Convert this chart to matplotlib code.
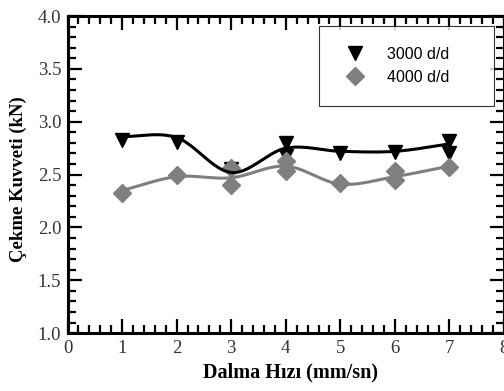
import numpy as np
import matplotlib.pyplot as plt
from matplotlib.ticker import MultipleLocator, FormatStrFormatter

# dalma hizi (mm/sn)
hiz = [1, 2, 3, 4, 5, 6, 7]

x_3000 = [1, 2, 3, 4, 4, 5, 6, 7, 7]
y_3000 = [2.83, 2.81, 2.55, 2.80, 2.68, 2.70, 2.71, 2.82, 2.70]
x_4000 = [1, 2, 3, 3, 4, 4, 5, 6, 6, 7]
y_4000 = [2.33, 2.50, 2.56, 2.40, 2.63, 2.53, 2.42, 2.53, 2.45, 2.57]

# mean curves the smooth lines go through
ort_3000 = [2.86, 2.85, 2.52, 2.75, 2.72, 2.72, 2.79]
ort_4000 = [2.35, 2.48, 2.47, 2.58, 2.41, 2.48, 2.58]

etiketler = ['3000 d/d', '4000 d/d']


def egri(x, y, n=40):
    # catmull-rom curve through the points, only for drawing the line
    p = np.column_stack([x, y]).astype(float)
    p = np.vstack([2 * p[0] - p[1], p, 2 * p[-1] - p[-2]])
    t = np.linspace(0, 1, n)[:, None]
    parca = []
    for i in range(1, len(p) - 2):
        p0, p1, p2, p3 = p[i - 1], p[i], p[i + 1], p[i + 2]
        c = 0.5 * ((2 * p1) + (-p0 + p2) * t + (2 * p0 - 5 * p1 + 4 * p2 - p3) * t**2
                   + (-p0 + 3 * p1 - 3 * p2 + p3) * t**3)
        parca.append(c)
    c = np.vstack(parca)
    return c[:, 0], c[:, 1]


fig = plt.figure(figsize=(5.04, 3.91), dpi=100)
ax = fig.add_axes([0.134, 0.148, 0.866, 0.811])

gri = '#7f7f7f'
ax.plot(x_3000, y_3000, 'v', color='black', ms=9.5, zorder=2, label=etiketler[0])
xs, ys = egri(hiz, ort_4000)
ax.plot(xs, ys, color=gri, lw=2.2, zorder=3)
ax.plot(x_4000, y_4000, 'D', color=gri, ms=8.7, zorder=4, label=etiketler[1])
xs, ys = egri(hiz, ort_3000)
ax.plot(xs, ys, color='black', lw=2.2, zorder=5)

ax.set_xlim(0, 8)
ax.set_ylim(1, 4)
ax.xaxis.set_major_locator(MultipleLocator(1))
ax.xaxis.set_minor_locator(MultipleLocator(0.2))
ax.yaxis.set_major_locator(MultipleLocator(0.5))
ax.yaxis.set_minor_locator(MultipleLocator(0.1))
ax.yaxis.set_major_formatter(FormatStrFormatter('%.1f'))

for s in ax.spines.values():
    s.set_linewidth(2.2)
ax.tick_params(which='both', direction='in', top=True, right=True,
               width=1.6, colors='black', labelcolor='#333333')
ax.tick_params(which='major', length=10)
ax.tick_params(which='minor', length=5.5)
ax.tick_params(axis='x', pad=5)
ax.tick_params(axis='y', pad=4.5)
for lab in ax.get_xticklabels() + ax.get_yticklabels():
    lab.set_fontfamily('Liberation Serif')
    lab.set_fontsize(13.5)

ax.set_xlabel('Dalma Hızı (mm/sn)', family='Liberation Serif', weight='bold',
              fontsize=14.5)
ax.set_ylabel('Çekme Kuvveti (kN)', family='Liberation Serif', weight='bold',
              fontsize=13.5)
ax.xaxis.set_label_coords(0.51, -0.094)
ax.yaxis.set_label_coords(-0.093, 0.486)

leg = ax.legend(loc='upper left', bbox_to_anchor=(0.575, 0.968, 0.401, 0.0),
                mode='expand', prop={'family': 'Liberation Sans', 'size': 11.5},
                frameon=True, fancybox=False, borderpad=1.3, labelspacing=0.5,
                handlelength=2.0, handletextpad=1.0, borderaxespad=0)
leg.get_frame().set_edgecolor('black')
leg.get_frame().set_linewidth(0.8)

fig.savefig('out.png', dpi=100)
